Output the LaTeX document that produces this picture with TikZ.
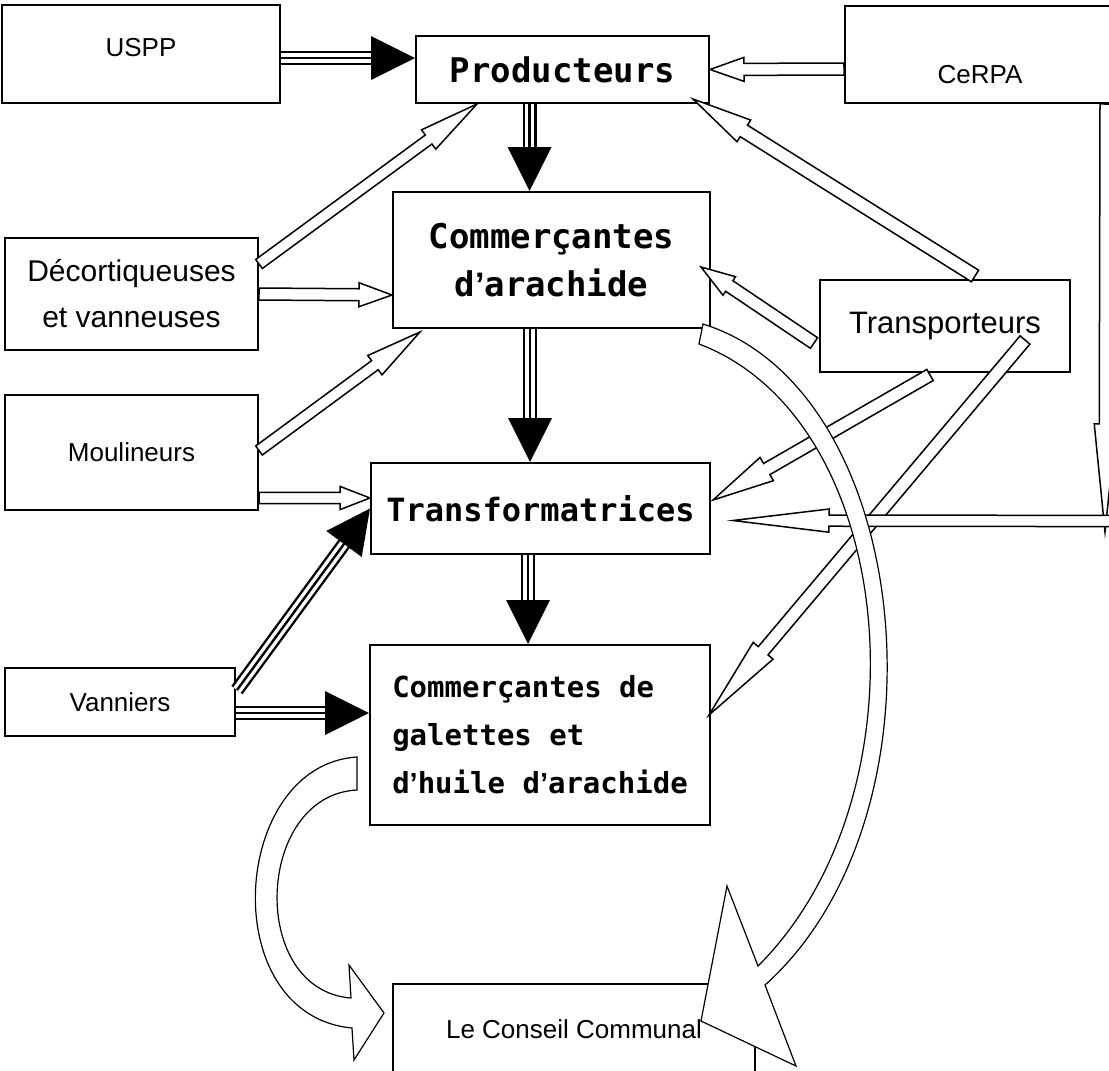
\documentclass[tikz,border=0pt]{standalone}
\usepackage{fontspec}
\setmainfont{Liberation Sans}
\newfontfamily\boxfont{DejaVu Sans Mono}
\usepackage{tikz}
\usetikzlibrary{calc}
\newcommand{\apo}{{\rmfamily\bfseries ’}}
\tikzset{
  every picture/.style = {
    x = 0.5pt,
    y = -0.5pt,
  }
  , % plain boxes
  box/.style = {
    rectangle,
    draw,
    fill = white,
    line width = 1pt,
    inner sep = 0pt,
    align = center,
    font = \fontsize{13}{23}\selectfont
  }
  , % boxes of the chain
  mainbox/.style = {
    box,
    font = \boxfont\bfseries\fontsize{17}{24}\selectfont
  }
  , % white block arrows
  hollow/.style = {
    draw,
    fill = white,
    line width = 0.75pt,
    line join = miter
  }
  , % three-line shafts
  triple/.style = {
    double = white,
    double distance = 4.6pt,
    line width = 1.2pt
  }
}
% #1 tail, #2 tip, #3 half shaft, #4 half head, #5 head length
\newcommand{\hollowarrow}[5]{
  \coordinate (ha-t) at #1;
  \coordinate (ha-h) at #2;
  \coordinate (ha-b) at ($(ha-h)!#5!(ha-t)$);
  \filldraw[hollow] ($(ha-t)!#3!90:(ha-h)$) -- ($(ha-b)!#3!90:(ha-h)$) -- ($(ha-b)!#4!90:(ha-h)$) -- (ha-h)
    -- ($(ha-b)!#4!-90:(ha-h)$) -- ($(ha-b)!#3!-90:(ha-h)$) -- ($(ha-t)!#3!-90:(ha-h)$) -- cycle;
}
% #1 tail, #2 tip
\newcommand{\tripletarrow}[2]{
  \coordinate (ta-t) at #1;
  \coordinate (ta-h) at #2;
  \coordinate (ta-b) at ($(ta-h)!22pt!(ta-t)$);
  \coordinate (ta-s) at ($(ta-h)!20pt!(ta-t)$);
  \draw[triple] (ta-t) -- (ta-s);
  \draw[line width = 1.2pt] (ta-t) -- (ta-s);
  \fill ($(ta-b)!11pt!90:(ta-h)$) -- (ta-h) -- ($(ta-b)!11pt!-90:(ta-h)$) -- cycle;
}

\begin{document}
\begin{tikzpicture}
\useasboundingbox (0,0) rectangle (1109,1071);
% boxes
\node[box, minimum width=139pt, minimum height=49pt, text depth=7pt] (uspp) at (141,54) {USPP};
\node[mainbox, minimum width=146.5pt, minimum height=33.5pt] (prod) at (562.5,69.5) {Producteurs};
\node[box, minimum width=135pt, minimum height=48.5pt, text height=29.3pt, text depth=0pt] (cerpa) at (980,54.5) {CeRPA};
\node[mainbox, minimum width=158.5pt, minimum height=68pt] (comA) at (551.5,260) {Commerçantes\\d\apo arachide};
\node[box, minimum width=126.5pt, minimum height=56pt, font=\fontsize{15}{23}\selectfont] (deco) at (131.5,294) {Décortiqueuses\\et vanneuses};
\node[box, minimum width=125pt, minimum height=46pt, font=\fontsize{15.5}{23}\selectfont] (transp) at (945,326) {Transporteurs};
\node[box, minimum width=126.5pt, minimum height=57.5pt] (moul) at (131.5,452.5) {Moulineurs};
\node[mainbox, minimum width=169.5pt, minimum height=45.5pt, font=\boxfont\bfseries\fontsize{16}{24}\selectfont] (transf) at (540.5,508.5) {Transformatrices};
\node[box, minimum width=115pt, minimum height=34pt] (vann) at (120,702) {Vanniers};
\node[mainbox, minimum width=170pt, minimum height=90pt, align=left, font=\boxfont\bfseries\fontsize{14.5}{24}\selectfont] (comG) at (540,735) {Commerçantes de\\galettes et\\d\apo huile d\apo arachide};
\node[box, minimum width=181pt, minimum height=45.5pt] (cons) at (574,1029.5) {Le Conseil Communal};
\coordinate (cerpaend) at (1105,532);
\coordinate (railend) at (1118,521);

% white arrows
\hollowarrow{($(cerpa.west)+(0,14.5)$)}{(prod.east)}{3pt}{6pt}{17pt}
\hollowarrow{($(deco.east)+(0,-30)$)}{($(prod.south west)+(62,0)$)}{2.8pt}{6pt}{30pt}
\hollowarrow{(deco.east)}{($(comA.west)+(0,35)$)}{3pt}{6pt}{16.5pt}
\hollowarrow{($(moul.east)+(0,-2)$)}{($(comA.south west)+(28,3)$)}{2.8pt}{6pt}{28pt}
\hollowarrow{($(moul.east)+(0,45.5)$)}{($(transf.west)+(0,-10.5)$)}{2.8pt}{5.8pt}{15pt}
\hollowarrow{($(transp.north)+(30,-3)$)}{($(prod.south east)+(-17,-5)$)}{3.4pt}{6.4pt}{30pt}
\hollowarrow{($(transp.west)+(-5,17)$)}{($(comA.east)+(-10,7)$)}{3.2pt}{5.6pt}{17pt}
\hollowarrow{($(transp.south)+(-15,2)$)}{($(transf.east)+(2,-8.5)$)}{3.2pt}{6.7pt}{31pt}
\hollowarrow{($(transp.east)+(-46,14)$)}{($(comG.east)+(-2,-20)$)}{3.2pt}{6.5pt}{42pt}
\hollowarrow{($(cerpa.south east)+(-10,0)$)}{(cerpaend)}{3pt}{5.5pt}{54pt}
\hollowarrow{(railend)}{($(transf.east)+(22,12)$)}{2.8pt}{5.8pt}{48pt}

% black arrows
\tripletarrow{($(uspp.east)+(0,4)$)}{($(prod.west)+(0,-11.5)$)}
\tripletarrow{($(prod.south)+(-33,0)$)}{($(comA.north)+(-22,0)$)}
\tripletarrow{($(comA.south)+(-21.5,0)$)}{($(transf.north)+(-10.5,0)$)}
\tripletarrow{($(transf.south)+(-12.5,0)$)}{($(comG.north)+(-12,0)$)}
\tripletarrow{($(vann.east)+(0,11)$)}{($(comG.west)+(0,-22)$)}
\tripletarrow{($(vann.east)+(1,-12)$)}{(transf.west)}

% curved arrows to the council
\filldraw[hollow, line width=0.6pt]
  ($(comA.south east)+(-8,-5)$) .. controls (915,390) and (955,815) .. ($(cons.north east)+(9,2)$)
  -- ($(cons.north east)+(40,83)$) -- ($(cons.north east)+(-55,38)$) -- ($(cons.north east)+(-29,-97)$)
  -- ($(cons.north east)+(2,-17)$) .. controls (930,795) and (900,420) .. ($(comA.south east)+(-12,15)$) -- cycle;
\filldraw[hollow, line width=0.6pt]
  ($(comG.south west)+(-12,-69)$) .. controls (230,765) and (215,1015) .. ($(cons.west)+(-40,-1.5)$)
  -- ($(cons.west)+(-38,30.5)$) -- ($(cons.west)+(-8,-16.5)$) -- ($(cons.west)+(-43,-64.5)$)
  -- ($(cons.west)+(-41,-31.5)$) .. controls (248,990) and (255,795) .. ($(comG.south west)+(-12,-36)$) -- cycle;
\end{tikzpicture}
\end{document}
